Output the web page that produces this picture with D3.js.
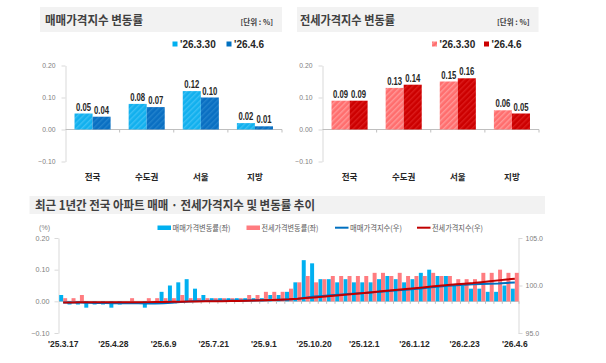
<!DOCTYPE html>
<html>
<head>
<meta charset="utf-8">
<script src="https://cdn.jsdelivr.net/npm/d3@7"></script>
<style>
  body { margin: 0; background: #fff; }
  svg { display: block; }
  .kr { font-family: "Noto Sans CJK KR", "Noto Sans", sans-serif; }
  .num { font-family: "Liberation Sans", Arial, sans-serif; }
  .narrow { font-family: "Liberation Sans Narrow", "Arial Narrow", "Liberation Sans", sans-serif; }
</style>
</head>
<body>
<svg id="chart" width="606" height="363"></svg>
<script>
// ---- data ----
var regions = ["전국", "수도권", "서울", "지방"];
var periods = ["'26.3.30", "'26.4.6"];

// weekly change of sale / jeonse price index, by region (%)
var saleMar30 = [0.05, 0.08, 0.12, 0.02];
var saleApr6 = [0.04, 0.07, 0.10, 0.01];
var jeonseMar30 = [0.09, 0.13, 0.15, 0.06];
var jeonseApr6 = [0.09, 0.14, 0.16, 0.05];

// last year, national, weekly ('25.3.17 .. '26.4.6)
var weekTickIdx = [0, 6, 12, 18, 24, 30, 36, 42, 48, 54];
var weekTickLabels = ["'25.3.17", "'25.4.28", "'25.6.9", "'25.7.21", "'25.9.1",
  "'25.10.20", "'25.12.1", "'26.1.12", "'26.2.23", "'26.4.6"];

var saleRate = [0.02, -0.01, -0.01, -0.02, -0.01, -0.01, -0.02, -0.01, 0.00, 0.00,
  -0.02, 0.00, 0.03, 0.05, 0.06, 0.07, 0.04, 0.02, 0.01, 0.01,
  0.01, 0.01, 0.01, 0.01, 0.01, 0.02, 0.02, 0.03, 0.06, 0.13,
  0.12, 0.07, 0.07, 0.06, 0.07, 0.06, 0.06, 0.06, 0.07, 0.08,
  0.07, 0.06, 0.07, 0.09, 0.10, 0.08, 0.08, 0.05, 0.05, 0.04,
  0.04, 0.03, 0.03, 0.05, 0.04];

var jeonseRate = [0.01, 0.01, 0.02, 0.00, 0.00, 0.00, 0.00, 0.00, 0.01, 0.00,
  0.01, 0.01, 0.01, 0.01, 0.02, 0.01, 0.01, 0.01, 0.01, 0.01,
  0.01, 0.01, 0.02, 0.02, 0.03, 0.03, 0.03, 0.04, 0.06, 0.08,
  0.06, 0.07, 0.08, 0.08, 0.08, 0.08, 0.08, 0.09, 0.09, 0.08,
  0.09, 0.08, 0.08, 0.08, 0.09, 0.08, 0.08, 0.07, 0.07, 0.07,
  0.09, 0.09, 0.10, 0.09, 0.09];

var saleIndex = [98.22, 98.21, 98.20, 98.18, 98.17, 98.16, 98.14, 98.13, 98.13, 98.13,
  98.11, 98.11, 98.14, 98.19, 98.25, 98.32, 98.36, 98.38, 98.39, 98.40,
  98.41, 98.42, 98.43, 98.44, 98.45, 98.47, 98.49, 98.52, 98.58, 98.71,
  98.83, 98.90, 98.97, 99.03, 99.10, 99.16, 99.22, 99.28, 99.35, 99.43,
  99.50, 99.56, 99.63, 99.72, 99.82, 99.90, 99.98, 100.03, 100.08, 100.12,
  100.16, 100.19, 100.22, 100.27, 100.31];

var jeonseIndex = [98.20, 98.21, 98.23, 98.23, 98.23, 98.23, 98.23, 98.23, 98.24, 98.24,
  98.25, 98.26, 98.27, 98.28, 98.30, 98.31, 98.32, 98.33, 98.34, 98.35,
  98.36, 98.37, 98.39, 98.41, 98.44, 98.47, 98.50, 98.54, 98.60, 98.68,
  98.74, 98.81, 98.89, 98.97, 99.05, 99.13, 99.21, 99.30, 99.39, 99.47,
  99.56, 99.64, 99.72, 99.80, 99.89, 99.97, 100.05, 100.12, 100.19, 100.26,
  100.35, 100.44, 100.54, 100.63, 100.72];

var svg = d3.select("#chart");
var defs = svg.append("defs");

// striped fills like the original bars
function hatch(id, base, stripe) {
  var p = defs.append("pattern")
      .attr("id", id)
      .attr("patternUnits", "userSpaceOnUse")
      .attr("width", 4)
      .attr("height", 4)
      .attr("patternTransform", "rotate(45)");
  p.append("rect").attr("width", 4).attr("height", 4).attr("fill", base);
  p.append("rect").attr("width", 1.4).attr("height", 4).attr("fill", stripe);
}
hatch("hLightBlue", "#12b0ee", "#3cc0f4");
hatch("hDarkBlue", "#0a6fc2", "#2282cc");
hatch("hLightRed", "#ff6e6e", "#ff9898");
hatch("hDarkRed", "#cc0000", "#dc1c1c");

function styleAxis(ax, size) {
  ax.select(".domain").attr("stroke", "#d9d9d9");
  ax.selectAll(".tick line").attr("stroke", "#d9d9d9");
  ax.selectAll(".tick text")
      .attr("class", "num")
      .attr("fill", "#808080")
      .attr("font-size", size);
}

/*
  TOP PANELS
*/
function drawBarPanel(p) {
  svg.append("rect")
      .attr("x", p.barX).attr("y", 7)
      .attr("width", p.barW).attr("height", 25)
      .attr("fill", "#f2f2f2");

  svg.append("text")
      .attr("class", "kr")
      .attr("x", p.barX + p.titleDx).attr("y", 25)
      .attr("font-size", 12.5).attr("font-weight", "bold")
      .attr("fill", "#404040")
      .attr("textLength", p.titleLen).attr("lengthAdjust", "spacingAndGlyphs")
      .text(p.title);

  svg.append("text")
      .attr("class", "kr")
      .attr("x", p.barX + p.barW - 9).attr("y", 24.5)
      .attr("text-anchor", "end")
      .attr("font-size", 7.5).attr("font-weight", "bold")
      .attr("fill", "#404040")
      .text("[단위 : %]");

  var x = d3.scaleBand().domain(regions).range([p.left, p.left + 216.5]);
  var xs = d3.scaleBand().domain(periods).range([0, x.bandwidth()]).paddingOuter(0.5);
  var y = d3.scaleLinear().domain([-0.1, 0.2]).range([161.5, 65.5]);

  var ax = svg.append("g")
      .attr("transform", "translate(" + p.left + ",0)")
      .call(d3.axisLeft(y)
        .tickValues([-0.1, 0, 0.1, 0.2])
        .tickFormat(d3.format(".2f"))
        .tickSize(4).tickSizeOuter(0).tickPadding(6));
  styleAxis(ax, 6.8);

  // zero line with category separators
  svg.append("line")
      .attr("x1", p.left).attr("x2", x.range()[1])
      .attr("y1", y(0)).attr("y2", y(0))
      .attr("stroke", "#bfbfbf");
  svg.selectAll(null)
      .data(regions).enter().append("line")
      .attr("x1", function(d) { return x(d) + x.bandwidth(); })
      .attr("x2", function(d) { return x(d) + x.bandwidth(); })
      .attr("y1", y(0)).attr("y2", y(0) + 3)
      .attr("stroke", "#bfbfbf");

  periods.forEach(function(per, k) {
    var vals = p.series[k];
    svg.selectAll(null)
        .data(regions).enter().append("rect")
        .attr("x", function(d) { return x(d) + xs(per); })
        .attr("width", xs.bandwidth())
        .attr("y", function(d, i) { return y(vals[i]); })
        .attr("height", function(d, i) { return y(0) - y(vals[i]); })
        .attr("fill", "url(#" + p.fills[k] + ")");

    svg.selectAll(null)
        .data(regions).enter().append("text")
        .attr("class", "narrow")
        .attr("x", function(d) { return x(d) + xs(per) + xs.bandwidth() / 2; })
        .attr("y", function(d, i) { return y(vals[i]) - 3; })
        .attr("text-anchor", "middle")
        .attr("font-size", 10).attr("font-weight", "bold")
        .attr("fill", "#262626")
        .attr("textLength", 15).attr("lengthAdjust", "spacingAndGlyphs")
        .text(function(d, i) { return d3.format(".2f")(vals[i]); });

    // legend
    svg.append("rect")
        .attr("x", p.legendX[k]).attr("y", 41.5)
        .attr("width", 5).attr("height", 5)
        .attr("fill", p.legendFills[k]);
    svg.append("text")
        .attr("class", "num")
        .attr("x", p.legendX[k] + 7.5).attr("y", 48.3)
        .attr("font-size", 10).attr("font-weight", "bold")
        .attr("fill", "#262626")
        .text(per);
  });

  svg.selectAll(null)
      .data(regions).enter().append("text")
      .attr("class", "kr")
      .attr("x", function(d) { return x(d) + x.bandwidth() / 2; })
      .attr("y", 179.5)
      .attr("text-anchor", "middle")
      .attr("font-size", 8.5).attr("font-weight", "bold")
      .attr("fill", "#262626")
      .text(function(d) { return d; });
}

drawBarPanel({
  title: "매매가격지수 변동률", barX: 40, barW: 242, titleDx: 5, titleLen: 98,
  left: 65.5, series: [saleMar30, saleApr6],
  fills: ["hLightBlue", "hDarkBlue"], legendFills: ["#00b0f0", "#0070c0"],
  legendX: [172.5, 226.5]
});

drawBarPanel({
  title: "전세가격지수 변동률", barX: 297, barW: 241.5, titleDx: 3, titleLen: 95,
  left: 322.5, series: [jeonseMar30, jeonseApr6],
  fills: ["hLightRed", "hDarkRed"], legendFills: ["url(#hLightRed)", "#cc0000"],
  legendX: [432, 484]
});

/*
  BOTTOM PANEL
*/
svg.append("rect")
    .attr("x", 29.5).attr("y", 196)
    .attr("width", 515.5).attr("height", 18)
    .attr("fill", "#f2f2f2");
svg.append("text")
    .attr("class", "kr")
    .attr("x", 35).attr("y", 210)
    .attr("font-size", 12.5).attr("font-weight", "bold")
    .attr("fill", "#404040")
    .attr("textLength", 280).attr("lengthAdjust", "spacingAndGlyphs")
    .text("최근 1년간 전국 아파트 매매 · 전세가격지수 및 변동률 추이");

var bx = d3.scaleBand().domain(d3.range(saleRate.length)).range([59, 519])
    .paddingInner(0.05).paddingOuter(0.025);
var bs = d3.scaleBand().domain(["sale", "jeonse"]).range([0, bx.bandwidth()]);
var yl = d3.scaleLinear().domain([-0.1, 0.2]).range([333, 238]);
var yr = d3.scaleLinear().domain([95, 105]).range([333, 238]);

var axL = svg.append("g")
    .attr("transform", "translate(58.5,0)")
    .call(d3.axisLeft(yl)
      .tickValues([-0.1, 0, 0.1, 0.2])
      .tickFormat(d3.format(".2f"))
      .tickSize(4).tickSizeOuter(0).tickPadding(5));
styleAxis(axL, 7.2);

var axR = svg.append("g")
    .attr("transform", "translate(518.5,0)")
    .call(d3.axisRight(yr)
      .tickValues([95, 100, 105])
      .tickFormat(d3.format(".1f"))
      .tickSize(4).tickSizeOuter(0).tickPadding(3));
styleAxis(axR, 7);

svg.append("text")
    .attr("class", "num")
    .attr("x", 50).attr("y", 229.5)
    .attr("text-anchor", "end")
    .attr("font-size", 7).attr("fill", "#808080")
    .text("(%)");

// zero line with weekly tick marks
svg.append("line")
    .attr("x1", 59).attr("x2", 519)
    .attr("y1", yl(0)).attr("y2", yl(0))
    .attr("stroke", "#bfbfbf");
svg.selectAll(null)
    .data(bx.domain()).enter().append("line")
    .attr("x1", function(d) { return bx(d) + bx.bandwidth() + bx.step() * bx.paddingInner() / 2; })
    .attr("x2", function(d) { return bx(d) + bx.bandwidth() + bx.step() * bx.paddingInner() / 2; })
    .attr("y1", yl(0)).attr("y2", yl(0) + 2.5)
    .attr("stroke", "#bfbfbf");

function rateBars(vals, key, color) {
  svg.selectAll(null)
      .data(vals).enter().append("rect")
      .attr("x", function(d, i) { return bx(i) + bs(key); })
      .attr("width", bs.bandwidth())
      .attr("y", function(d) { return yl(Math.max(0, d)); })
      .attr("height", function(d) { return Math.abs(yl(d) - yl(0)); })
      .attr("fill", color);
}
rateBars(saleRate, "sale", "#00b0f0");
rateBars(jeonseRate, "jeonse", "#ff7c80");

function indexLine(vals, color) {
  var line = d3.line()
      .x(function(d, i) { return bx(i) + bx.bandwidth() / 2; })
      .y(function(d) { return yr(d); });
  svg.append("path")
      .datum(vals)
      .attr("d", line)
      .attr("fill", "none")
      .attr("stroke", color)
      .attr("stroke-width", 2);
}
indexLine(saleIndex, "#0070c0");
indexLine(jeonseIndex, "#c00000");

svg.selectAll(null)
    .data(weekTickIdx).enter().append("text")
    .attr("class", "num")
    .attr("x", function(d) { return bx(d) + bx.bandwidth() / 2; })
    .attr("y", 347)
    .attr("text-anchor", "middle")
    .attr("font-size", 8.5).attr("font-weight", "bold")
    .attr("fill", "#262626")
    .text(function(d, i) { return weekTickLabels[i]; });

// legend
var legendItems = [
  { label: "매매가격변동률(좌)", color: "#00b0f0", type: "bar", x: 157.5, len: 58 },
  { label: "전세가격변동률(좌)", color: "#ff7c80", type: "bar", x: 246.5, len: 57 },
  { label: "매매가격지수(우)", color: "#0070c0", type: "line", x: 335, len: 52 },
  { label: "전세가격지수(우)", color: "#c00000", type: "line", x: 417, len: 51 }
];
legendItems.forEach(function(d) {
  if (d.type == "bar") {
    svg.append("rect")
        .attr("x", d.x).attr("y", 225.5)
        .attr("width", 13.5).attr("height", 4.5)
        .attr("fill", d.color);
  } else {
    svg.append("line")
        .attr("x1", d.x).attr("x2", d.x + 13.5)
        .attr("y1", 227.7).attr("y2", 227.7)
        .attr("stroke", d.color).attr("stroke-width", 2);
  }
  svg.append("text")
      .attr("class", "kr")
      .attr("x", d.x + 15).attr("y", 230.5)
      .attr("font-size", 7.5).attr("fill", "#595959")
      .attr("textLength", d.len).attr("lengthAdjust", "spacingAndGlyphs")
      .text(d.label);
});
</script>
</body>
</html>
